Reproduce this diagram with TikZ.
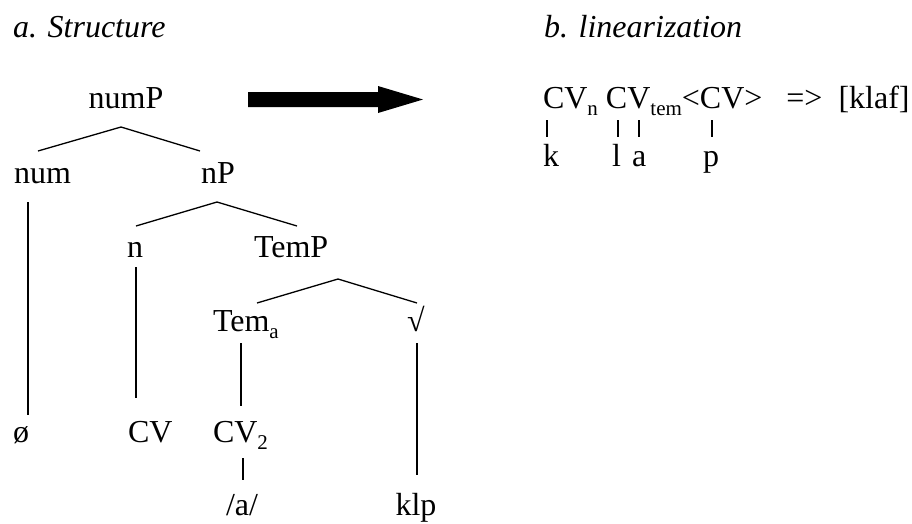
\documentclass[tikz,border=0pt]{standalone}
\usepackage{fontspec}
\setmainfont{Liberation Serif}
\newcommand{\lowsub}[1]{\raisebox{-0.22em}{\fontsize{21}{21}\selectfont #1}}
\tikzset{
  lbl/.style={inner sep=0pt, outer sep=0pt, anchor=base, font=\fontsize{32}{38}\selectfont},
  lbll/.style={lbl, anchor=base west},
  edge/.style={line width=1.3pt, black},
}
\begin{document}
\begin{tikzpicture}[x=1pt,y=-1pt]
\useasboundingbox[fill=white] (0,0) rectangle (912,523);
% headings
\node[lbll] (ha) at (13,37) {\itshape a. Structure};
\node[lbll] (hb) at (544,37) {\itshape b. linearization};
% big arrow
\fill[black] (248,92) -- (378,92) -- (378,86) -- (423,99.5) -- (378,113) -- (378,107) -- (248,107) -- cycle;
% tree nodes
\node[lbl] (numP) at (126,108) {numP};
\node[lbll] (num) at (14,183) {num};
\node[lbl] (nP) at (218,183) {nP};
\node[lbl] (n) at (135,257) {n};
\node[lbll] (TemP) at (254,257) {TemP};
\node[lbll] (Tem) at (213,331) {Tem\lowsub{a}};
\node[lbl] (root) at (416,331) {√};
\node[lbll] (null) at (13,442) {ø};
\node[lbll] (CV) at (128,442) {CV};
\node[lbll] (CVtwo) at (213,442) {CV\lowsub{2}};
\node[lbl] (a) at (242,515) {/a/};
\node[lbl] (klp) at (416,515) {klp};
% branching coordinates
\coordinate (numPtop) at (121,127);
\coordinate (numPl) at (38,151);
\coordinate (numPr) at (200,151);
\coordinate (nPtop) at (217,202);
\coordinate (nPl) at (136,226);
\coordinate (nPr) at (297,226);
\coordinate (TemPtop) at (338,279);
\coordinate (TemPl) at (257,303);
\coordinate (TemPr) at (417,303);
\draw[edge] (numPl) -- (numPtop) -- (numPr);
\draw[edge] (nPl) -- (nPtop) -- (nPr);
\draw[edge] (TemPl) -- (TemPtop) -- (TemPr);
% vertical association lines
\coordinate (numA) at (28,202);  \coordinate (numB) at (28,415);
\coordinate (nA) at (136,267);   \coordinate (nB) at (136,398);
\coordinate (TemA) at (241,343); \coordinate (TemB) at (241,406);
\coordinate (rootA) at (417,343); \coordinate (rootB) at (417,475);
\coordinate (cvA) at (243,458);  \coordinate (cvB) at (243,480);
\draw[edge] (numA) -- (numB);
\draw[edge] (nA) -- (nB);
\draw[edge] (TemA) -- (TemB);
\draw[edge] (rootA) -- (rootB);
\draw[edge] (cvA) -- (cvB);
% linearization
\node[lbll] (lin) at (543,108) {CV\lowsub{n} CV\lowsub{tem}<CV> \ \ => \ [klaf]};
\node[lbll] (k) at (543,166) {k};
\node[lbll] (l) at (612,166) {l};
\node[lbll] (av) at (632,166) {a};
\node[lbll] (p) at (703,166) {p};
\coordinate (b1a) at (547,120); \coordinate (b1b) at (547,137);
\coordinate (b2a) at (618,120); \coordinate (b2b) at (618,137);
\coordinate (b3a) at (639,120); \coordinate (b3b) at (639,137);
\coordinate (b4a) at (712,120); \coordinate (b4b) at (712,137);
\draw[edge] (b1a) -- (b1b);
\draw[edge] (b2a) -- (b2b);
\draw[edge] (b3a) -- (b3b);
\draw[edge] (b4a) -- (b4b);
\end{tikzpicture}
\end{document}
